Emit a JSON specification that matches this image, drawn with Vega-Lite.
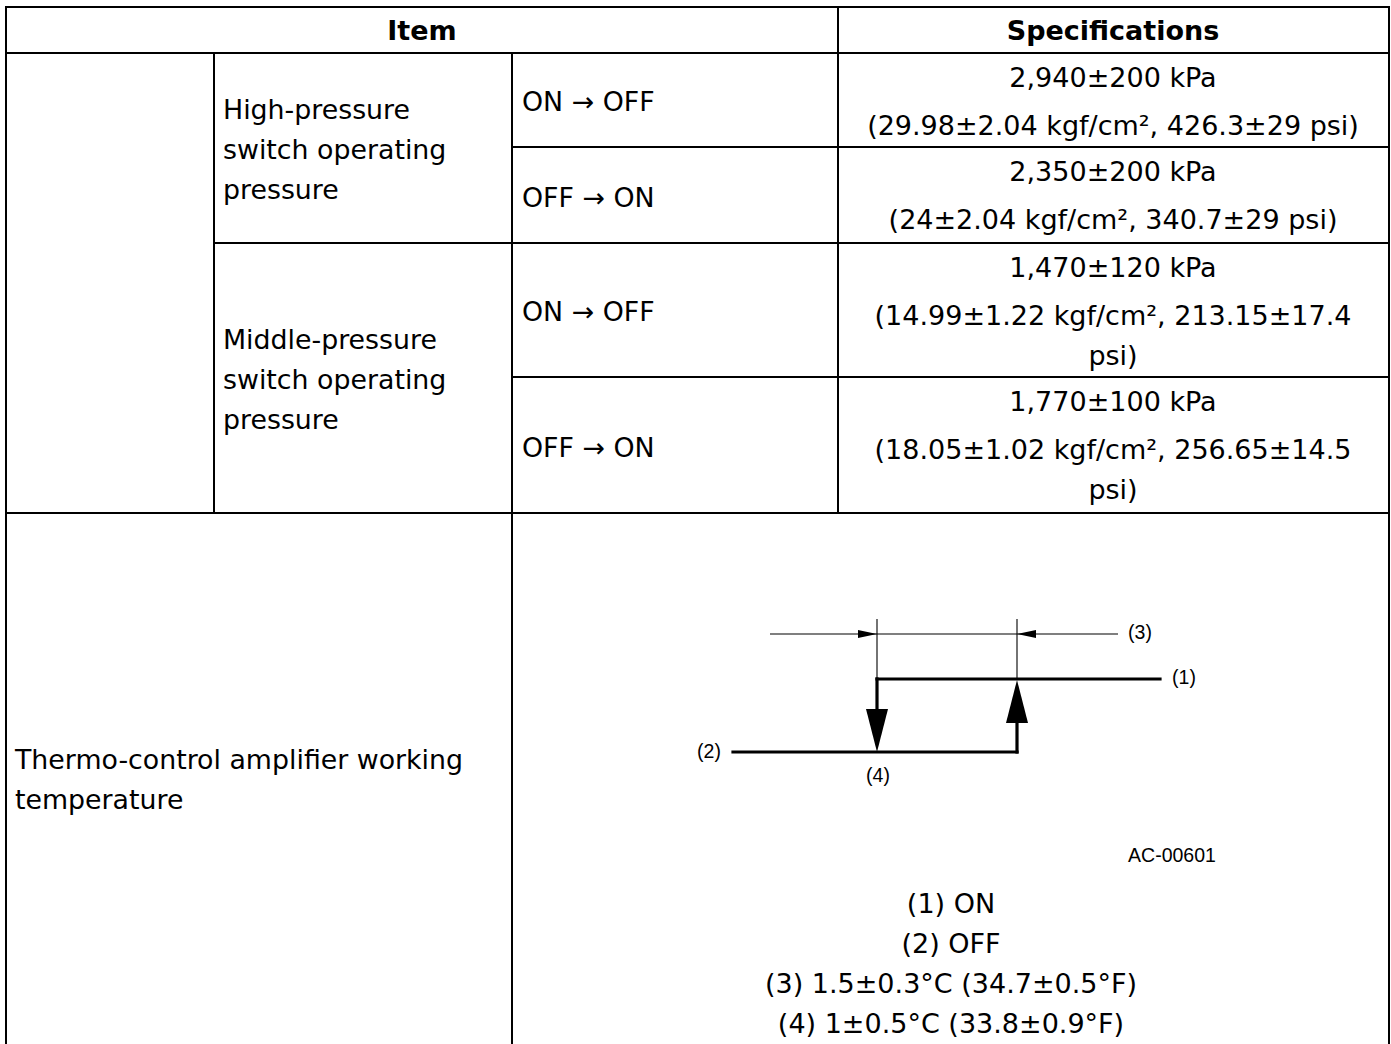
{
  "$schema": "https://vega.github.io/schema/vega-lite/v6.json",
  "width": 1391,
  "height": 1044,
  "padding": 0,
  "autosize": {"type": "none"},
  "background": "white",
  "config": {"view": {"stroke": null}},
  "datasets": {
    "grid": [
      {"x": 6, "y": 7, "x2": 1389, "y2": 7},
      {"x": 6, "y": 53, "x2": 1389, "y2": 53},
      {"x": 6, "y": 7, "x2": 6, "y2": 1044},
      {"x": 1389, "y": 7, "x2": 1389, "y2": 1044},
      {"x": 838, "y": 7, "x2": 838, "y2": 513},
      {"x": 214, "y": 53, "x2": 214, "y2": 513},
      {"x": 512, "y": 53, "x2": 512, "y2": 1044},
      {"x": 512, "y": 147, "x2": 1389, "y2": 147},
      {"x": 214, "y": 243, "x2": 1389, "y2": 243},
      {"x": 512, "y": 377, "x2": 1389, "y2": 377},
      {"x": 6, "y": 513, "x2": 1389, "y2": 513}
    ],
    "header": [
      {"x": 422, "y": 30, "text": "Item"},
      {"x": 1113, "y": 30, "text": "Specifications"}
    ],
    "leftText": [
      {"x": 223, "y": 109, "text": "High-pressure"},
      {"x": 223, "y": 149, "text": "switch operating"},
      {"x": 223, "y": 189, "text": "pressure"},
      {"x": 522, "y": 101, "text": "ON → OFF"},
      {"x": 522, "y": 197, "text": "OFF → ON"},
      {"x": 223, "y": 339, "text": "Middle-pressure"},
      {"x": 223, "y": 379, "text": "switch operating"},
      {"x": 223, "y": 419, "text": "pressure"},
      {"x": 522, "y": 311, "text": "ON → OFF"},
      {"x": 522, "y": 447, "text": "OFF → ON"},
      {"x": 15, "y": 759, "text": "Thermo-control amplifier working"},
      {"x": 15, "y": 799, "text": "temperature"}
    ],
    "centerText": [
      {"x": 1113, "y": 77, "text": "2,940±200 kPa"},
      {"x": 1113, "y": 125, "text": "(29.98±2.04 kgf/cm², 426.3±29 psi)"},
      {"x": 1113, "y": 171, "text": "2,350±200 kPa"},
      {"x": 1113, "y": 219, "text": "(24±2.04 kgf/cm², 340.7±29 psi)"},
      {"x": 1113, "y": 267, "text": "1,470±120 kPa"},
      {"x": 1113, "y": 315, "text": "(14.99±1.22 kgf/cm², 213.15±17.4"},
      {"x": 1113, "y": 355, "text": "psi)"},
      {"x": 1113, "y": 401, "text": "1,770±100 kPa"},
      {"x": 1113, "y": 449, "text": "(18.05±1.02 kgf/cm², 256.65±14.5"},
      {"x": 1113, "y": 489, "text": "psi)"},
      {"x": 951, "y": 903, "text": "(1) ON"},
      {"x": 951, "y": 943, "text": "(2) OFF"},
      {"x": 951, "y": 983, "text": "(3) 1.5±0.3°C (34.7±0.5°F)"},
      {"x": 951, "y": 1023, "text": "(4) 1±0.5°C (33.8±0.9°F)"}
    ],
    "diagLabels": [
      {"x": 1140, "y": 633, "text": "(3)"},
      {"x": 1184, "y": 678, "text": "(1)"},
      {"x": 709, "y": 752, "text": "(2)"},
      {"x": 878, "y": 776, "text": "(4)"},
      {"x": 1172, "y": 856, "text": "AC-00601"}
    ],
    "thinLines": [
      {"x": 770, "y": 634, "x2": 1118, "y2": 634},
      {"x": 877, "y": 619, "x2": 877, "y2": 679},
      {"x": 1017, "y": 619, "x2": 1017, "y2": 680}
    ],
    "thickLines": [
      {"x": 877, "y": 679, "x2": 1160, "y2": 679},
      {"x": 877, "y": 679, "x2": 877, "y2": 712},
      {"x": 733, "y": 752, "x2": 1017, "y2": 752},
      {"x": 1017, "y": 752, "x2": 1017, "y2": 720}
    ],
    "arrows": [
      {"x": 877, "y": 752, "dir": "down"},
      {"x": 1017, "y": 680, "dir": "up"},
      {"x": 877, "y": 634, "dir": "right"},
      {"x": 1017, "y": 634, "dir": "left"}
    ]
  },
  "layer": [
    {
      "data": {"name": "grid"},
      "mark": {"type": "rule", "color": "black", "strokeWidth": 2, "strokeCap": "square"},
      "encoding": {
        "x": {"field": "x", "type": "quantitative", "scale": {"domain": [0, 1391], "nice": false, "zero": false}, "axis": null},
        "x2": {"field": "x2"},
        "y": {"field": "y", "type": "quantitative", "scale": {"domain": [0, 1044], "nice": false, "zero": false, "reverse": true}, "axis": null},
        "y2": {"field": "y2"}
      }
    },
    {
      "data": {"name": "thinLines"},
      "mark": {"type": "rule", "color": "black", "strokeWidth": 1.1},
      "encoding": {
        "x": {"field": "x", "type": "quantitative", "scale": {"domain": [0, 1391], "nice": false, "zero": false}, "axis": null},
        "x2": {"field": "x2"},
        "y": {"field": "y", "type": "quantitative", "scale": {"domain": [0, 1044], "nice": false, "zero": false, "reverse": true}, "axis": null},
        "y2": {"field": "y2"}
      }
    },
    {
      "data": {"name": "thickLines"},
      "mark": {"type": "rule", "color": "black", "strokeWidth": 3.2, "strokeCap": "square"},
      "encoding": {
        "x": {"field": "x", "type": "quantitative", "scale": {"domain": [0, 1391], "nice": false, "zero": false}, "axis": null},
        "x2": {"field": "x2"},
        "y": {"field": "y", "type": "quantitative", "scale": {"domain": [0, 1044], "nice": false, "zero": false, "reverse": true}, "axis": null},
        "y2": {"field": "y2"}
      }
    },
    {
      "data": {"name": "arrows"},
      "mark": {"type": "point", "filled": true, "color": "black", "opacity": 1, "size": 4, "strokeWidth": 0},
      "encoding": {
        "x": {"field": "x", "type": "quantitative", "scale": {"domain": [0, 1391], "nice": false, "zero": false}, "axis": null},
        "y": {"field": "y", "type": "quantitative", "scale": {"domain": [0, 1044], "nice": false, "zero": false, "reverse": true}, "axis": null},
        "shape": {
          "field": "dir",
          "type": "nominal",
          "legend": null,
          "scale": {
            "domain": ["down", "up", "right", "left"],
            "range": ["M-11,-43L11,-43L0,0Z", "M-11,43L11,43L0,0Z", "M-19,-4L-19,4L0,0Z", "M19,-4L19,4L0,0Z"]
          }
        }
      }
    },
    {
      "data": {"name": "header"},
      "mark": {"type": "text", "font": "DejaVu Sans", "fontSize": 27, "fontWeight": "bold", "align": "center", "baseline": "middle", "dy": 1.5, "color": "black"},
      "encoding": {
        "x": {"field": "x", "type": "quantitative", "scale": {"domain": [0, 1391], "nice": false, "zero": false}, "axis": null},
        "y": {"field": "y", "type": "quantitative", "scale": {"domain": [0, 1044], "nice": false, "zero": false, "reverse": true}, "axis": null},
        "text": {"field": "text"}
      }
    },
    {
      "data": {"name": "leftText"},
      "mark": {"type": "text", "font": "DejaVu Sans", "fontSize": 26.8, "align": "left", "baseline": "middle", "dy": 1.5, "color": "black"},
      "encoding": {
        "x": {"field": "x", "type": "quantitative", "scale": {"domain": [0, 1391], "nice": false, "zero": false}, "axis": null},
        "y": {"field": "y", "type": "quantitative", "scale": {"domain": [0, 1044], "nice": false, "zero": false, "reverse": true}, "axis": null},
        "text": {"field": "text"}
      }
    },
    {
      "data": {"name": "centerText"},
      "mark": {"type": "text", "font": "DejaVu Sans", "fontSize": 27, "align": "center", "baseline": "middle", "dy": 1.5, "color": "black"},
      "encoding": {
        "x": {"field": "x", "type": "quantitative", "scale": {"domain": [0, 1391], "nice": false, "zero": false}, "axis": null},
        "y": {"field": "y", "type": "quantitative", "scale": {"domain": [0, 1044], "nice": false, "zero": false, "reverse": true}, "axis": null},
        "text": {"field": "text"}
      }
    },
    {
      "data": {"name": "diagLabels"},
      "mark": {"type": "text", "font": "Liberation Sans", "fontSize": 19.5, "align": "center", "baseline": "middle", "color": "black"},
      "encoding": {
        "x": {"field": "x", "type": "quantitative", "scale": {"domain": [0, 1391], "nice": false, "zero": false}, "axis": null},
        "y": {"field": "y", "type": "quantitative", "scale": {"domain": [0, 1044], "nice": false, "zero": false, "reverse": true}, "axis": null},
        "text": {"field": "text"}
      }
    }
  ]
}
